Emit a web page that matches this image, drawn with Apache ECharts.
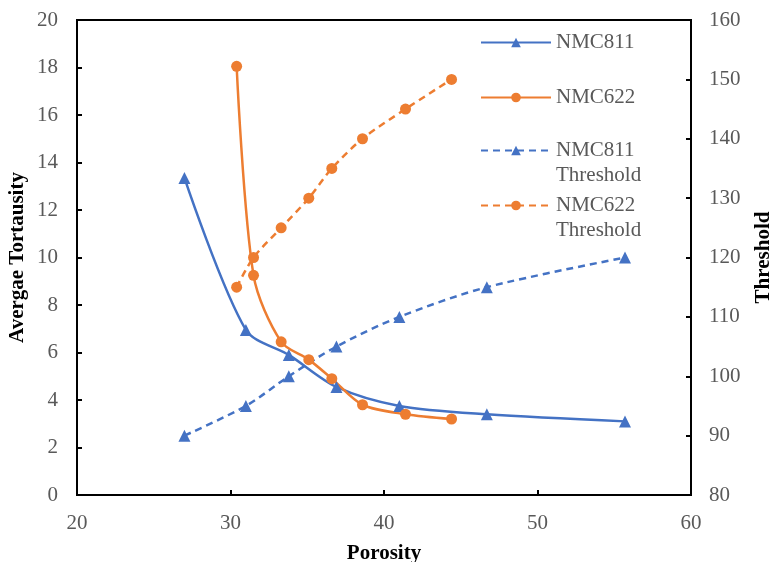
<!DOCTYPE html>
<html>
<head>
<meta charset="utf-8">
<script src="https://cdn.jsdelivr.net/npm/echarts@6/dist/echarts.min.js"></script>
<style>
  html, body { margin: 0; padding: 0; background: #fff; }
  #main { width: 771px; height: 562px; }
</style>
</head>
<body>
<div id="main"></div>
<script>
// porosity (x) and values
const nmc811X = [27, 31, 33.8, 36.9, 41, 46.7, 55.7]
const nmc811Tort = [13.35, 6.95, 5.9, 4.55, 3.75, 3.4, 3.1]
const nmc811Thr = [90, 95, 100, 105, 110, 115, 120]

const nmc622X = [30.4, 31.5, 33.3, 35.1, 36.6, 38.6, 41.4, 44.4]
const nmc622Tort = [18.05, 9.25, 6.45, 5.7, 4.9, 3.8, 3.4, 3.2]
const nmc622Thr = [115, 120, 125, 130, 135, 140, 145, 150]

const colors = ['#4472C4', '#ED7D31']
const font = 'Liberation Serif'

function pairs(xs, ys) {
  return xs.map((x, i) => [x, ys[i]])
}

const myChart = echarts.init(document.getElementById('main'))

const axisCommon = {
  axisLine: { show: true, lineStyle: { color: '#000', width: 2 } },
  axisTick: { show: true, inside: true, length: 5, lineStyle: { color: '#000', width: 2 } },
  splitLine: { show: false },
  axisLabel: { color: '#595959', fontFamily: font, fontSize: 21 },
  nameLocation: 'middle',
  nameMoveOverlap: false,
  nameTextStyle: { color: '#000', fontFamily: font, fontSize: 21, fontWeight: 'bold' },
}

function legendAt(name, top, twoLine) {
  return {
    orient: 'vertical',
    left: 480,
    top: top,
    padding: 0,
    itemWidth: 70,
    itemHeight: 12,
    itemGap: 0,
    data: [name],
    // two-line names: blank first line so the name's first line sits on the icon
    formatter: (n) => (twoLine ? '\n' + n.replace(' ', '\n') : n),
    textStyle: {
      color: '#595959',
      fontFamily: font,
      fontSize: 21,
      lineHeight: 25,
    },
  }
}

const option = {
  animation: false,
  grid: {
    left: 77, right: 80, top: 20, bottom: 67,
    outerBoundsMode: 'none',
    containLabel: false,
    show: true, borderColor: '#000', borderWidth: 2,
  },
  legend: [
    legendAt('NMC811', 30, false),
    legendAt('NMC622', 85, false),
    legendAt('NMC811 Threshold', 113, true),
    legendAt('NMC622 Threshold', 168, true),
  ],
  xAxis: Object.assign({}, axisCommon, {
    type: 'value', min: 20, max: 60, interval: 10,
    name: 'Porosity', nameGap: 48,
    axisLabel: Object.assign({}, axisCommon.axisLabel, { margin: 18 }),
  }),
  yAxis: [
    Object.assign({}, axisCommon, {
      type: 'value', min: 0, max: 20, interval: 2,
      name: 'Avergae Tortausity', nameGap: 49,
      axisLabel: Object.assign({}, axisCommon.axisLabel, { margin: 19 }),
    }),
    Object.assign({}, axisCommon, {
      type: 'value', min: 80, max: 160, interval: 10, position: 'right',
      name: 'Threshold', nameGap: 62, nameRotate: 90,
      axisLabel: Object.assign({}, axisCommon.axisLabel, { margin: 18 }),
    }),
  ],
  series: [
    {
      name: 'NMC811', type: 'line', yAxisIndex: 0,
      data: pairs(nmc811X, nmc811Tort), smooth: 0.3,
      color: colors[0], symbol: 'triangle', symbolSize: 12,
      lineStyle: { width: 2.5 },
    },
    {
      name: 'NMC622', type: 'line', yAxisIndex: 0,
      data: pairs(nmc622X, nmc622Tort), smooth: 0.3,
      color: colors[1], symbol: 'circle', symbolSize: 11,
      lineStyle: { width: 2.5 },
    },
    {
      name: 'NMC811 Threshold', type: 'line', yAxisIndex: 1,
      data: pairs(nmc811X, nmc811Thr), smooth: 0.3,
      color: colors[0], symbol: 'triangle', symbolSize: 12,
      lineStyle: { width: 2.5, type: [7, 5] },
    },
    {
      name: 'NMC622 Threshold', type: 'line', yAxisIndex: 1,
      data: pairs(nmc622X, nmc622Thr), smooth: 0.3,
      color: colors[1], symbol: 'circle', symbolSize: 11,
      lineStyle: { width: 2.5, type: [7, 5] },
    },
  ],
}

myChart.setOption(option)
</script>
</body>
</html>
